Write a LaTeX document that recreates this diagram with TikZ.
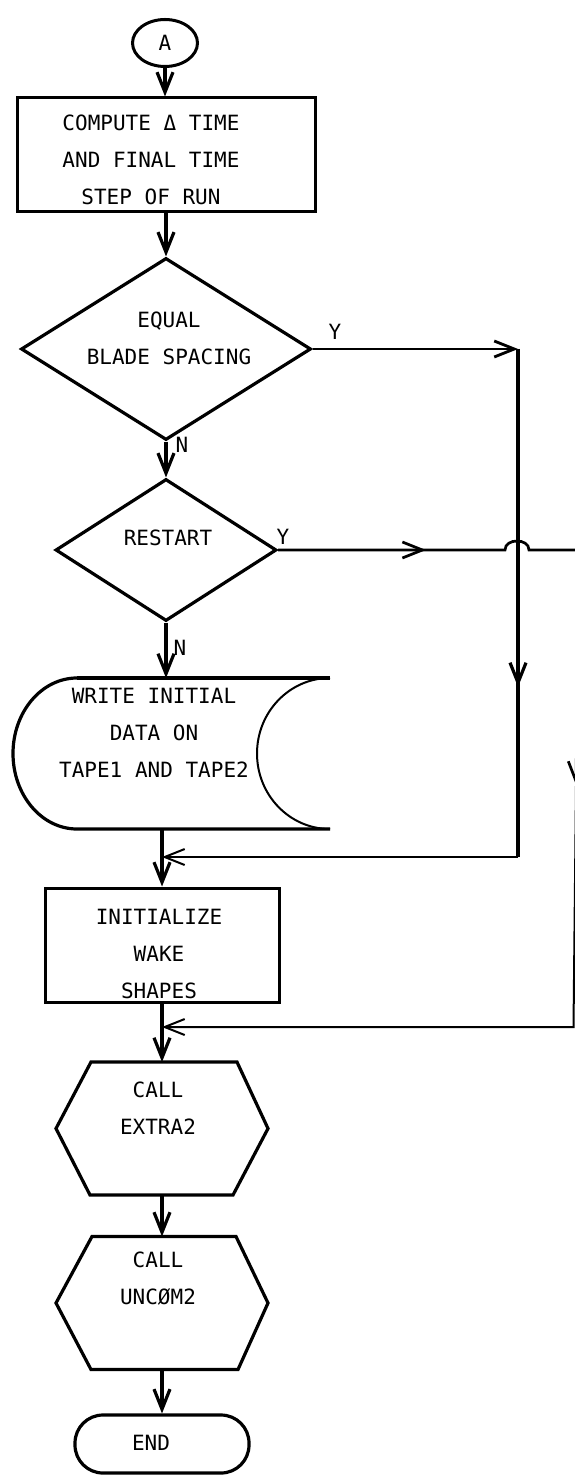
\documentclass[tikz,border=0pt]{standalone}
\usepackage{fontspec}
\newfontfamily\chartfont{DejaVu Sans Mono}
\usetikzlibrary{shapes.geometric,arrows.meta}
\tikzstyle{txt}=[font=\chartfont\fontsize{10.5}{18.5}\selectfont, align=center, inner sep=0pt]
\tikzstyle{connector}=[ellipse, draw, line width=1.5pt, minimum width=32.5pt, minimum height=23.5pt]
\tikzstyle{process}=[rectangle, draw, line width=1.5pt]
\tikzstyle{decision}=[diamond, draw, line width=1.6pt, inner sep=0pt]
\tikzstyle{term}=[rectangle, rounded corners=14pt, draw, line width=1.6pt]
\tikzstyle{callbox}=[rectangle, minimum width=106pt, minimum height=66.5pt, outer sep=0pt]
\tikzstyle{flow}=[->, line width=1.6pt]
\tikzstyle{branch}=[line width=1.35pt]
\tikzstyle{back}=[line width=1pt]

\begin{document}
\begin{tikzpicture}[x=0.5pt, y=-0.5pt, >={Straight Barb[length=10pt,width=8pt]}]
\useasboundingbox (0,0) rectangle (574,1475);

\node[connector, txt] (A) at (165,43) {A};
\node[process, minimum width=149pt, minimum height=57pt] (compute) at (166,155) {};
\node[txt] (computetext) at (151,160) {COMPUTE Δ TIME\\AND FINAL TIME\\STEP OF RUN};
\node[decision, minimum width=145pt, minimum height=91pt] (equal) at (166,349) {};
\node[txt] (equaltext) at (169,338) {EQUAL\\BLADE SPACING};
\node[decision, minimum width=110.5pt, minimum height=71pt] (restart) at (166,550) {};
\node[txt] (restarttext) at (168,538) {RESTART};

% stored data on tape
\node[minimum width=158.5pt, minimum height=75.5pt, outer sep=0pt] (tape) at (171.5,753.5) {};
\draw[line width=1.6pt] (77,678) -- (330,678);
\draw[line width=1.6pt] (330,829) -- (77,829) .. controls (41.7,829) and (13,795.2) .. (13,753.5)
  .. controls (13,711.8) and (41.7,678) .. (77,678);
\draw[line width=1pt] (330,678) .. controls (289.7,678) and (257,711.8) .. (257,753.5)
  .. controls (257,795.2) and (289.7,829) .. (330,829);
\node[txt] (tapetext) at (154,733) {WRITE INITIAL\\DATA ON\\TAPE1 AND TAPE2};

\node[process, minimum width=117pt, minimum height=57pt] (wake) at (162,945) {};
\node[txt] (waketext) at (159,954) {INITIALIZE\\WAKE\\SHAPES};

% call hexagons
\node[callbox] (extra2) at (162,1128.5) {};
\draw[line width=1.6pt] ([xshift=17.5pt]extra2.north west) -- ([xshift=-15.5pt]extra2.north east) -- (extra2.east)
  -- ([xshift=-17.5pt]extra2.south east) -- ([xshift=17pt]extra2.south west) -- (extra2.west) -- cycle;
\node[txt] (extra2text) at (158,1108) {CALL\\EXTRA2};
\node[callbox] (uncom2) at (162,1303) {};
\draw[line width=1.6pt] ([xshift=18pt]uncom2.north west) -- ([xshift=-16pt]uncom2.north east) -- (uncom2.east)
  -- ([xshift=-15pt]uncom2.south east) -- ([xshift=17.5pt]uncom2.south west) -- (uncom2.west) -- cycle;
\node[txt] (uncom2text) at (158,1279) {CALL\\UNCØM2};

\node[term, minimum width=87pt, minimum height=29pt] (finish) at (162,1444) {};
\node[txt] (finishtext) at (151,1443) {END};

\node[txt] (yequal) at (335,332) {Y};
\node[txt] (nequal) at (182,445) {N};
\node[txt] (yrestart) at (283,537) {Y};
\node[txt] (nrestart) at (180,648) {N};

% main line
\draw[flow] (A.south) -- (A.south |- compute.north);
\draw[flow] (compute.south) -- (equal.north);
\draw[flow] (equal.south) -- (restart.north);
\draw[flow] (restart.south) -- (restart.south |- tape.north);
\draw[flow] (wake.north |- tape.south) -- (wake.north);
\draw[flow] (wake.south) -- (extra2.north);
\draw[flow] (extra2.south) -- (uncom2.north);
\draw[flow] (uncom2.south) -- (finish.north);

% equal spacing branch
\coordinate (eqcorner) at (518,349);
\coordinate (eqdown) at (518,687);
\coordinate (eqback) at (518,857);
\draw[->, line width=1.4pt] (equal.east) -- (eqcorner);
\draw[line width=1.6pt] (eqcorner) -- (eqback);
\draw[flow] (eqcorner) -- (eqdown);
\draw[->, back] (eqback) -- (eqback -| wake.north);

% restart branch
\coordinate (rsarrow) at (426,550);
\coordinate (hopin) at (505,550);
\coordinate (hopout) at (529,550);
\coordinate (rcorner) at (579,550);
\coordinate (rdown) at (576,785);
\coordinate (rback) at (573.5,1027);
\draw[branch] (restart.east) -- (hopin) .. controls +(0,-12) and +(0,-12) .. (hopout) -- (rcorner);
\draw[->, branch] (restart.east) -- (rsarrow);
\draw[->, branch] (rcorner) -- (rdown);
\draw[->, back] (rdown) -- (rback) -- (rback -| wake.north);
\end{tikzpicture}
\end{document}
